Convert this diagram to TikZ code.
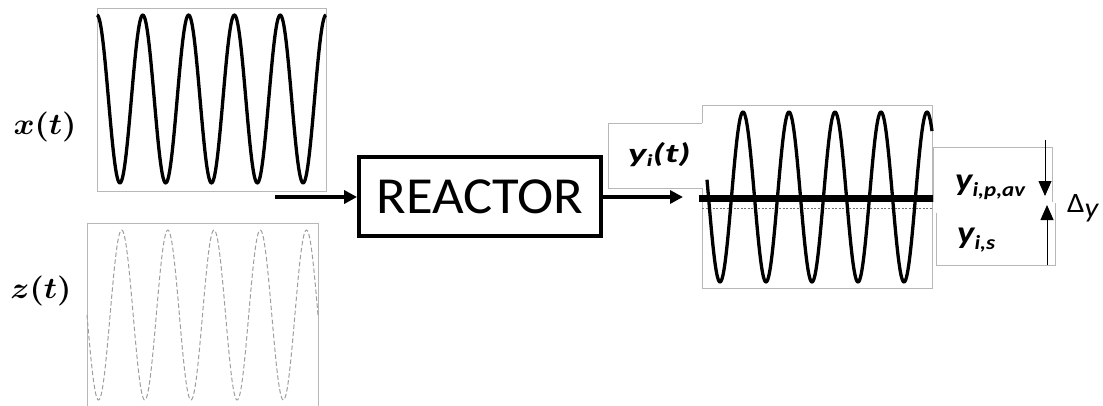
\documentclass[tikz,border=0pt]{standalone}
\usepackage{fontspec}
\newfontfamily\calfont{Carlito}
\usetikzlibrary{arrows.meta}
\begin{document}
\begin{tikzpicture}[x=1pt,y=-1pt,
  frame/.style={draw=black!28, line width=0.9pt},
  wave/.style={black, line width=3.3pt, line join=round},
  dwave/.style={black!38, line width=1pt, dash pattern=on 4.5pt off 2.5pt},
  flow/.style={line width=3.8pt, -{Triangle[length=13pt,width=13pt]}},
  thinarrow/.style={line width=0.9pt, -{Triangle[length=15pt,width=13pt]}},
  mathlab/.style={inner sep=0, font=\fontsize{10}{12}\selectfont\boldmath},
  boldlab/.style={inner sep=0, anchor=base west, font=\calfont\bfseries\itshape},
  reactorbox/.style={draw, line width=3.8pt, minimum width=242pt, minimum height=79pt, inner sep=0, font=\calfont\fontsize{52}{52}\selectfont}
]
\clip (0,0) rectangle (1103,405);
\useasboundingbox (0,0) rectangle (1103,405);

% x(t) plot
\draw[frame] (97,8) rectangle (326,191);
\draw[wave] plot[domain=97:326, samples=300] (\x, {99-84*cos((\x-97)/45.8*360)});
\node[mathlab] (xlab) at (45,127) {\scalebox{3.2}[3]{$x(t)$}};

% z(t) plot
\draw[frame] (87,223) rectangle (318,412);
\draw[dwave] plot[domain=87:318, samples=300] (\x, {315+85*sin((\x-87)/46.2*360)});
\node[mathlab] (zlab) at (41,291) {\scalebox{3.2}[3]{$z(t)$}};

% reactor
\node[reactorbox] (reactor) at (480,196.5) {\scalebox{1.05}[1]{REACTOR}};
\coordinate (xin) at (275,197);
\draw[flow] (xin) -- (xin -| reactor.west);
\coordinate (yout) at (683,197);
\draw[flow] (reactor.east |- yout) -- (yout);

% y_i(t) plot
\draw[frame] (702,123) -- (702,105) -- (932,105) -- (932,288) -- (702,288) -- (702,188);
\draw[frame] (702,123) -- (608,123) -- (608,188) -- (702,188);
\node[boldlab] (yit) at (628,162) {\scalebox{1.45}[1]{\fontsize{27}{27}\selectfont y\raisebox{-4pt}{\fontsize{17}{17}\selectfont i}(t)}};
\draw[black!55, line width=0.7pt, dash pattern=on 2pt off 1.5pt] (702,208) -- (932,208);
\draw[wave] plot[domain=707:932, samples=300] (\x, {197+85*cos((\x-720)/46*360)});
\draw[line width=7pt] (699,198) -- (933,198);

% right label boxes
\draw[frame] (933,202) -- (933,147) -- (1052,147) -- (1052,202);
\draw[frame] (936,213) -- (936,265) -- (1055,265) -- (1055,203);
\node[boldlab] (ypav) at (955,190) {\scalebox{1.15}[1]{\fontsize{32}{32}\selectfont y\raisebox{-6pt}{\fontsize{20}{20}\selectfont i,p,av}}};
\node[boldlab] (ys) at (957,243) {\scalebox{1.15}[1]{\fontsize{32}{32}\selectfont y\raisebox{-6pt}{\fontsize{20}{20}\selectfont i,s}}};

% delta arrows
\coordinate (dtop) at (1045,140);
\coordinate (dtip) at (1045,196);
\draw[thinarrow] (dtop) -- (dtip);
\coordinate (ubot) at (1047,265);
\coordinate (utip) at (1047,205);
\draw[thinarrow] (ubot) -- (utip);
\node[anchor=base west, inner sep=0, font=\calfont] (dy) at (1067,212) {\scalebox{1.1}[1]{\fontsize{28}{28}\selectfont Δ\raisebox{-5pt}{\fontsize{28}{28}\selectfont\itshape y}}};
\end{tikzpicture}
\end{document}
